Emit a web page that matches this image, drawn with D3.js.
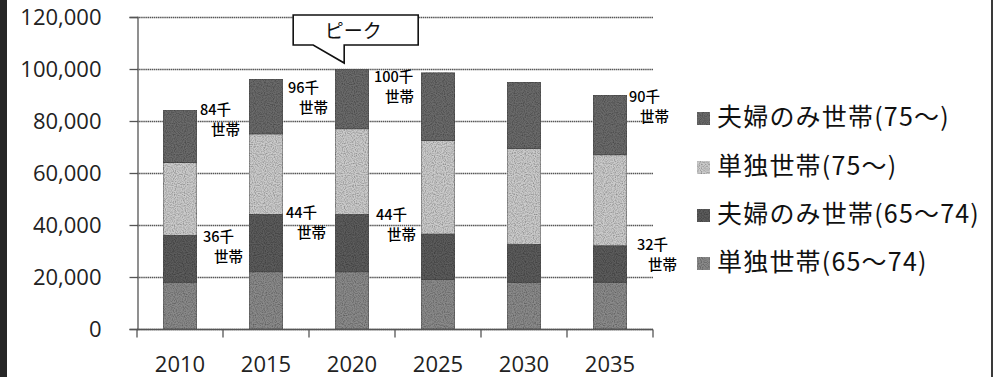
<!DOCTYPE html>
<html>
<head>
<meta charset="utf-8">
<script src="https://cdn.jsdelivr.net/npm/d3@7/dist/d3.min.js"></script>
<style>
  html, body { margin: 0; padding: 0; background: #fff; }
  svg { display: block; }
</style>
</head>
<body>
<svg id="chart" width="996" height="377"></svg>
<script>
// Elderly households by type, 2010–2035 (households)
const years = ["2010", "2015", "2020", "2025", "2030", "2035"];
const singleYoung  = [18000, 22000, 22000, 19000, 18000, 18000]; // 単独世帯(65～74)
const coupleYoung  = [18000, 22000, 22000, 17500, 14500, 14000]; // 夫婦のみ世帯(65～74)
const singleOld    = [28000, 31000, 33000, 36000, 37000, 35000]; // 単独世帯(75～)
const coupleOld    = [20000, 21000, 23000, 26000, 25500, 23000]; // 夫婦のみ世帯(75～)
const seriesNames  = ["単独世帯(65～74)", "夫婦のみ世帯(65～74)", "単独世帯(75～)", "夫婦のみ世帯(75～)"];
const yTicks = [0, 20000, 40000, 60000, 80000, 100000, 120000];

// Callout labels: total households, and the 65–74 subtotal
const totalLabels = [
  { year: "2010", value: 84000, text: "84千" },
  { year: "2015", value: 96000, text: "96千" },
  { year: "2020", value: 100000, text: "100千" },
  { year: "2035", value: 90000, text: "90千" }
];
const youngLabels = [
  { year: "2010", value: 36000, text: "36千" },
  { year: "2015", value: 44000, text: "44千" },
  { year: "2020", value: 44000, text: "44千" },
  { year: "2035", value: 32000, text: "32千" }
];
const peakYear = "2020";
const peakText = "ピーク";

const svg = d3.select("#chart");
const W = 996, H = 377;
const plot = { left: 137, right: 653, top: 17, bottom: 329 };

const colors = ["#8a8a8a", "#5c5c5c", "#cbcbcb", "#6a6a6a"];

// grain texture used on the bars and legend swatches
const defs = svg.append("defs");
const grain = defs.append("filter").attr("id", "grain")
  .attr("x", 0).attr("y", 0).attr("width", 1).attr("height", 1);
grain.append("feTurbulence").attr("type", "fractalNoise")
  .attr("baseFrequency", 0.9).attr("numOctaves", 1).attr("seed", 3).attr("result", "noise");
grain.append("feColorMatrix").attr("in", "noise").attr("type", "matrix")
  .attr("values", "0 0 0 0 0  0 0 0 0 0  0 0 0 0 0  0 0 0 1.3 -0.5").attr("result", "dots");
grain.append("feComposite").attr("in", "dots").attr("in2", "SourceGraphic").attr("operator", "in").attr("result", "dotsIn");
grain.append("feMerge").selectAll("feMergeNode")
  .data(["SourceGraphic", "dotsIn"]).join("feMergeNode").attr("in", d => d);

const x = d3.scaleBand().domain(years).range([plot.left, plot.right])
  .paddingInner(0.605).paddingOuter(0.3025);
const y = d3.scaleLinear().domain([0, 120000]).range([plot.bottom, plot.top]);

// stacked data
const rows = years.map((yr, i) => ({
  year: yr,
  [seriesNames[0]]: singleYoung[i],
  [seriesNames[1]]: coupleYoung[i],
  [seriesNames[2]]: singleOld[i],
  [seriesNames[3]]: coupleOld[i]
}));
const stacked = d3.stack().keys(seriesNames)(rows);

// outer frame pieces
svg.append("rect").attr("x", 0).attr("y", 0).attr("width", 7).attr("height", H).attr("fill", "#262626");
svg.append("rect").attr("x", 991).attr("y", 0).attr("width", 2).attr("height", H).attr("fill", "#3a3a3a");

// horizontal gridlines
svg.append("g").selectAll("line").data(yTicks).join("line")
  .attr("x1", plot.left).attr("x2", plot.right)
  .attr("y1", d => Math.round(y(d)) + 0.5).attr("y2", d => Math.round(y(d)) + 0.5)
  .attr("stroke", "#555").attr("stroke-width", 1.3)
  .attr("stroke-dasharray", "1.5,0.6");

// y axis
const yAxis = d3.axisLeft(y).tickValues(yTicks).tickSize(8).tickPadding(28)
  .tickFormat(d3.format(","));
const gy = svg.append("g").attr("transform", `translate(${plot.left + 0.5},0)`).call(yAxis);
gy.select(".domain").attr("stroke", "#555").attr("stroke-width", 1.3);
gy.selectAll(".tick line").attr("stroke", "#555").attr("stroke-width", 1.3);
gy.selectAll(".tick text")
  .attr("font-family", "'Open Sans', 'Noto Sans', sans-serif")
  .attr("font-size", 22).attr("fill", "#222").attr("dy", "0.36em");

// x axis: ticks on category boundaries
const gx = svg.append("g").attr("transform", `translate(0,${plot.bottom + 0.5})`);
gx.append("line").attr("x1", plot.left).attr("x2", plot.right)
  .attr("stroke", "#555").attr("stroke-width", 1.3);
const bounds = d3.range(years.length + 1).map(i => plot.left + i * x.step());
gx.selectAll("line.tk").data(bounds).join("line").attr("class", "tk")
  .attr("x1", d => d).attr("x2", d => d).attr("y1", 0).attr("y2", 8)
  .attr("stroke", "#555").attr("stroke-width", 1.3);
gx.selectAll("text").data(years).join("text")
  .attr("x", d => x(d) + x.bandwidth() / 2).attr("y", 42)
  .attr("text-anchor", "middle")
  .attr("font-family", "'Open Sans', 'Noto Sans', sans-serif")
  .attr("font-size", 22).attr("fill", "#222").text(d => d);

// bars
svg.append("g").selectAll("g").data(stacked).join("g")
  .attr("fill", (d, i) => colors[i])
  .selectAll("rect").data(d => d).join("rect")
  .attr("x", d => x(d.data.year))
  .attr("width", x.bandwidth())
  .attr("y", d => y(d[1]))
  .attr("height", d => y(d[0]) - y(d[1]))
  .attr("stroke", "#4a4a4a").attr("stroke-width", 0.8)
  .attr("filter", "url(#grain)");

// value callouts beside the bars
const nudge = {
  total: { "2010": [3, 4], "2015": [5, 14], "2020": [5, 13], "2035": [2, 7] },
  young: { "2010": [6, 7], "2015": [3, 3], "2020": [7, 5], "2035": [10, 4] }
};
function drawCallouts(list, kind) {
  const g = svg.append("g")
    .attr("font-family", "'Noto Sans CJK JP', sans-serif")
    .attr("font-size", 14.5).attr("font-weight", 500).attr("fill", "#000");
  list.forEach(d => {
    const [dx, dy] = nudge[kind][d.year];
    const bx = x(d.year) + x.bandwidth() + dx;
    const by = y(d.value) + dy;
    g.append("text").attr("x", bx).attr("y", by).text(d.text);
    g.append("text").attr("x", bx + 11).attr("y", by + 20).text("世帯");
  });
}
drawCallouts(totalLabels, "total");
drawCallouts(youngLabels, "young");

// "peak" speech bubble pointing at the 2020 bar top
const peakIdx = years.indexOf(peakYear);
const peakTotal = singleYoung[peakIdx] + coupleYoung[peakIdx] + singleOld[peakIdx] + coupleOld[peakIdx];
const tipX = x(peakYear) + x.bandwidth() * 0.27;
const tipY = y(peakTotal) - 6;
const bx0 = tipX - 51, bx1 = tipX + 74, by0 = 15, by1 = 45;
svg.append("path")
  .attr("d", `M${bx0},${by0} H${bx1} V${by1} H${tipX} V${tipY} L${tipX - 31},${by1} H${bx0} Z`)
  .attr("fill", "#fff").attr("stroke", "#111").attr("stroke-width", 1.6)
  .attr("stroke-linejoin", "miter");
svg.append("text").attr("x", tipX + 9).attr("y", 38)
  .attr("text-anchor", "middle")
  .attr("font-family", "'Noto Sans CJK JP', sans-serif")
  .attr("font-size", 19).attr("fill", "#111").text(peakText);

// legend, top series first
const legendOrder = [3, 2, 1, 0];
const lg = svg.append("g").attr("transform", "translate(697,0)");
const legendRows = [117, 166, 214, 262];
legendOrder.forEach((si, r) => {
  lg.append("rect").attr("x", 0).attr("y", legendRows[r] - 5).attr("width", 13).attr("height", 13)
    .attr("fill", colors[si]).attr("filter", "url(#grain)");
  lg.append("text").attr("x", 20).attr("y", legendRows[r]).attr("dy", "0.36em")
    .attr("font-family", "'Noto Sans CJK JP', sans-serif")
    .attr("font-size", 25).attr("letter-spacing", 1.2).attr("fill", "#111").text(seriesNames[si]);
});
</script>
</body>
</html>
